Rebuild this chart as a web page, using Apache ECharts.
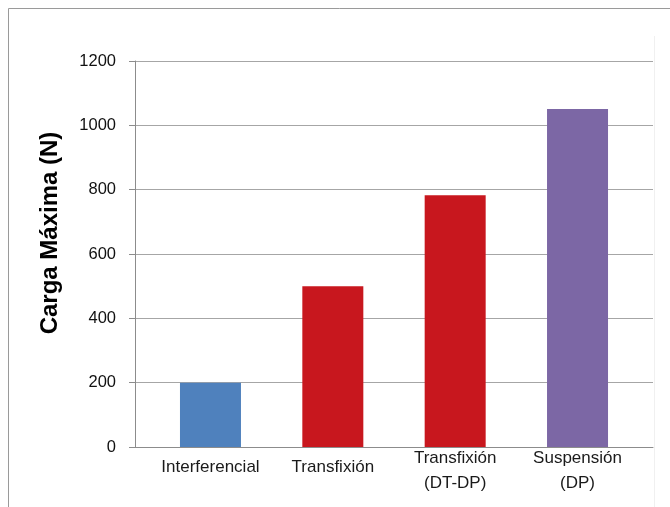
<!DOCTYPE html>
<html>
<head>
<meta charset="utf-8">
<script src="https://cdn.jsdelivr.net/npm/echarts@6/dist/echarts.min.js"></script>
<style>
html,body{margin:0;padding:0;background:#fff;}
#c{width:670px;height:507px;}
</style>
</head>
<body>
<div id="c"></div>
<script>
var categories = ['Interferencial', 'Transfixión', 'Transfixión\n(DT-DP)', 'Suspensión\n(DP)'];
var values = [200, 500, 783, 1051];
var barColors = ['#4F81BD', '#C8171E', '#C8171E', '#7C67A5'];
var yTicks = { min: 0, max: 1200, interval: 200 };
var yTitle = 'Carga Máxima (N)';

var chart = echarts.init(document.getElementById('c'));
chart.setOption({
  animation: false,
  backgroundColor: '#fff',
  graphic: [
    { type: 'line', shape: { x1: 8.5, y1: 8.5, x2: 670, y2: 8.5 }, style: { stroke: '#9a9a9a', lineWidth: 1 } },
    { type: 'line', shape: { x1: 8.5, y1: 8.5, x2: 8.5, y2: 507 }, style: { stroke: '#9a9a9a', lineWidth: 1 } },
    { type: 'line', shape: { x1: 654.5, y1: 36, x2: 654.5, y2: 507 }, style: { stroke: '#f0f0f0', lineWidth: 1 } }
  ],
  grid: [
    { left: 135, right: 17, top: 61, bottom: 60 },
    { left: 149.3, right: 31.3, top: 61, bottom: 60 }
  ],
  xAxis: [
    {
      gridIndex: 0, type: 'category', data: categories,
      axisLine: { show: true, lineStyle: { color: '#8c8c8c' } },
      axisTick: { show: false }, axisLabel: { show: false }, splitLine: { show: false }
    },
    {
      gridIndex: 1, type: 'category', data: categories,
      axisLine: { show: false }, axisTick: { show: false },
      axisLabel: {
        show: true, interval: 0, margin: -1, verticalAlign: 'top',
        fontFamily: 'Liberation Sans', fontSize: 17, color: '#1a1a1a', lineHeight: 25,
        formatter: function (v) {
          return v.indexOf('\n') >= 0 ? v : '{s|' + v + '}';
        },
        rich: {
          s: { fontFamily: 'Liberation Sans', fontSize: 17, color: '#1a1a1a', lineHeight: 25, padding: [17, 0, 0, 0] }
        }
      }
    }
  ],
  yAxis: [
    {
      gridIndex: 0, type: 'value', min: yTicks.min, max: yTicks.max, interval: yTicks.interval,
      name: yTitle, nameLocation: 'middle', nameRotate: 90, nameGap: 73,
      nameTextStyle: { fontFamily: 'Liberation Sans', fontSize: 24, fontWeight: 'bold', color: '#000', padding: [0, 0, 0, 42] },
      axisLine: { show: true, lineStyle: { color: '#8c8c8c' } },
      axisTick: { show: true, length: 6, lineStyle: { color: '#8c8c8c' } },
      axisLabel: { margin: 19, fontFamily: 'Liberation Sans', fontSize: 16.5, color: '#111', formatter: function (v) { return String(v); } },
      splitLine: { show: true, lineStyle: { color: '#a6a6a6' } }
    },
    {
      gridIndex: 1, type: 'value', min: yTicks.min, max: yTicks.max, interval: yTicks.interval,
      show: false
    }
  ],
  series: [
    {
      type: 'bar', xAxisIndex: 1, yAxisIndex: 1, barWidth: 61,
      data: values.map(function (v, i) {
        return { value: v, itemStyle: { color: barColors[i] } };
      })
    }
  ]
});
</script>
</body>
</html>
